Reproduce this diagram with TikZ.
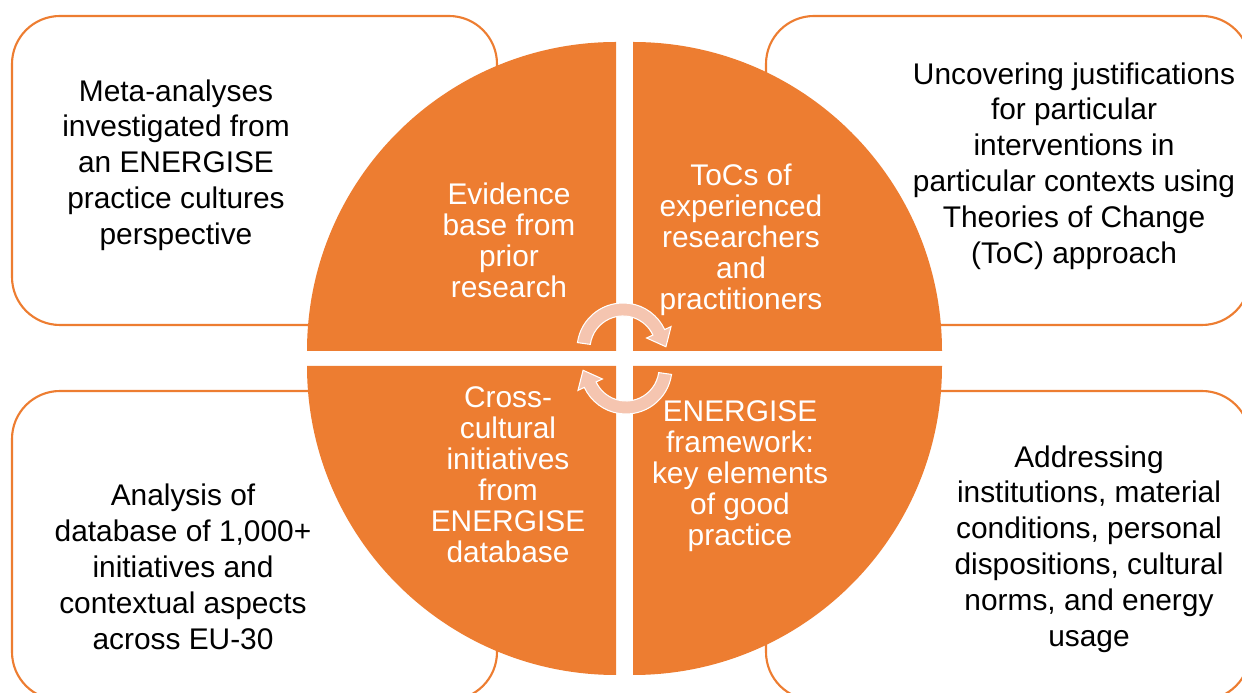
\documentclass[tikz,border=0pt]{standalone}
\usepackage{fontspec}
\setmainfont{Liberation Sans}
\usepackage{xcolor}
\usepackage{tikz}
\definecolor{energyorange}{HTML}{ED7D31}
\definecolor{arrowpeach}{HTML}{F5C5B0}

\begin{document}
\begin{tikzpicture}[x=0.02cm, y=0.02cm,
    outerbox/.style={draw=energyorange, fill=white, line width=1.2pt, rounded corners=0.96cm},
    boxtext/.style={align=center, text=black, font=\fontsize{17}{20.4}\selectfont},
    quadtext/.style={align=center, text=white, font=\fontsize{17}{17.6}\selectfont},
    cyclearrow/.style={fill=arrowpeach, draw=white, line width=0.6pt}]
    \clip (0,0) rectangle (1242,693);

    % side boxes
    \draw[outerbox] (12,368) rectangle (497,677);
    \draw[outerbox] (766,368) rectangle (1250,677);
    \draw[outerbox] (12,-7) rectangle (497,302);
    \draw[outerbox] (766,-7) rectangle (1250,302);

    % four quarters of the disc
    \fill[energyorange] (616,342) -- (307,342) arc[start angle=180, end angle=90, radius=309] -- cycle;
    \fill[energyorange] (633,342) -- (633,651) arc[start angle=90, end angle=0, radius=309] -- cycle;
    \fill[energyorange] (616,327) -- (616,18) arc[start angle=270, end angle=180, radius=309] -- cycle;
    \fill[energyorange] (633,327) -- (942,327) arc[start angle=0, end angle=-90, radius=309] -- cycle;

    % cycle arrows in the middle
    \begin{scope}[shift={(623,344)}]
        \filldraw[cyclearrow] (172:46) arc[start angle=172, end angle=25, radius=46] -- (25:53) -- (3:43) -- (25:26) -- (25:33) arc[start angle=25, end angle=172, radius=33] -- cycle;
    \end{scope}
    \begin{scope}[shift={(626,325)}, rotate=180]
        \filldraw[cyclearrow] (172:46) arc[start angle=172, end angle=25, radius=46] -- (25:53) -- (3:43) -- (25:26) -- (25:33) arc[start angle=25, end angle=172, radius=33] -- cycle;
    \end{scope}

    % texts inside the disc
    \node[quadtext] (evidence) at (509,453) {Evidence\\base from\\prior\\research};
    \node[quadtext] (tocs) at (741,453) {ToCs of\\experienced\\researchers\\and\\practitioners};
    \node[quadtext] (crosscult) at (508,218) {Cross-\\cultural\\initiatives\\from\\ENERGISE\\database};
    \node[quadtext] (framework) at (740,217) {ENERGISE\\framework:\\key elements\\of good\\practice};

    % texts of the side boxes
    \node[boxtext] (meta) at (176,528) {Meta-analyses\\investigated from\\an ENERGISE\\practice cultures\\perspective};
    \node[boxtext] (theory) at (1074,527) {Uncovering justifications\\for particular\\interventions in\\particular contexts using\\Theories of Change\\(ToC) approach};
    \node[boxtext] (analysis) at (183,126) {Analysis of\\database of 1,000+\\initiatives and\\contextual aspects\\across EU-30};
    \node[boxtext] (norms) at (1089,144) {Addressing\\institutions, material\\conditions, personal\\dispositions, cultural\\norms, and energy\\usage};
\end{tikzpicture}
\end{document}
